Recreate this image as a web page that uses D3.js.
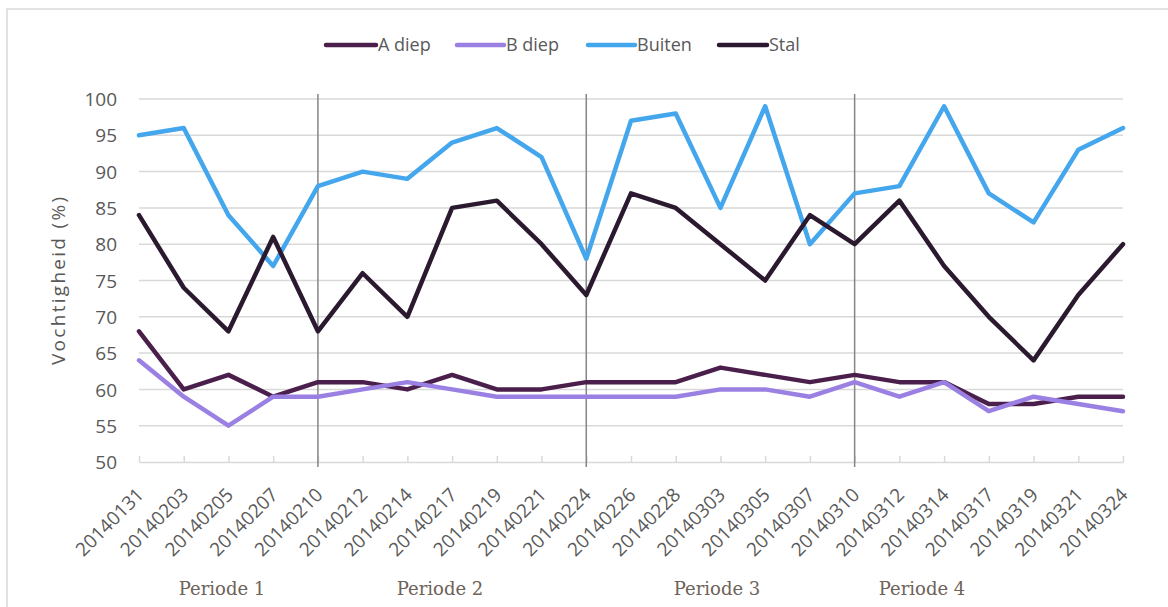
<!DOCTYPE html>
<html>
<head>
<meta charset="utf-8">
<script src="https://cdn.jsdelivr.net/npm/d3@7"></script>
<style>
  html, body { margin: 0; padding: 0; background: #ffffff; }
  svg { display: block; }
</style>
</head>
<body>
<svg id="chart" width="1168" height="607"></svg>
<script>
// Meetdagen (categorie-as)
const dates = ["20140131","20140203","20140205","20140207","20140210","20140212","20140214",
  "20140217","20140219","20140221","20140224","20140226","20140228","20140303","20140305",
  "20140307","20140310","20140312","20140314","20140317","20140319","20140321","20140324"];

// Relatieve vochtigheid (%) per meetpunt
const aDiep  = [68,60,62,59,61,61,60,62,60,60,61,61,61,63,62,61,62,61,61,58,58,59,59];
const bDiep  = [64,59,55,59,59,60,61,60,59,59,59,59,59,60,60,59,61,59,61,57,59,58,57];
const buiten = [95,96,84,77,88,90,89,94,96,92,78,97,98,85,99,80,87,88,99,87,83,93,96];
const stal   = [84,74,68,81,68,76,70,85,86,80,73,87,85,80,75,84,80,86,77,70,64,73,80];

const seriesNames = ["A diep", "B diep", "Buiten", "Stal"];
const yTicks = [50,55,60,65,70,75,80,85,90,95,100];

// Grenzen tussen de perioden en de periodelabels
const periodBreaks = ["20140210", "20140224", "20140310"];
const periodLabels = ["Periode 1", "Periode 2", "Periode 3", "Periode 4"];

const colors = {"A diep": "#4a1f4b", "B diep": "#9b80e3", "Buiten": "#44a6ec", "Stal": "#2b1a2f"};
const seriesData = {"A diep": aDiep, "B diep": bDiep, "Buiten": buiten, "Stal": stal};

const svg = d3.select("#chart");
const font = "'Open Sans', 'Noto Sans', sans-serif";

// Kaderrand
svg.append("rect")
  .attr("x", 7).attr("y", 9).attr("width", 1175).attr("height", 610)
  .attr("fill", "none").attr("stroke", "#d9d9d9").attr("stroke-width", 1.5);

const x = d3.scalePoint().domain(dates).range([139, 1123]);
const y = d3.scaleLinear().domain([50, 100]).range([462, 99]);

// Horizontale rasterlijnen
svg.append("g")
  .selectAll("line")
  .data(yTicks.filter(t => t > 50))
  .join("line")
  .attr("x1", 139).attr("x2", 1123)
  .attr("y1", d => y(d)).attr("y2", d => y(d))
  .attr("stroke", "#d9d9d9").attr("stroke-width", 1.5);

// Y-as labels
const yAxis = d3.axisLeft(y).tickValues(yTicks).tickSize(0).tickPadding(0);
const gy = svg.append("g").attr("transform", "translate(117,0)").call(yAxis);
gy.select(".domain").remove();
gy.selectAll("text")
  .attr("font-family", font).attr("font-size", 19).attr("fill", "#595959")
  .attr("dy", "0.35em");

// X-as met streepjes
const xAxis = d3.axisTop(x).tickSize(6).tickSizeOuter(0).tickFormat("");
const gx = svg.append("g").attr("transform", "translate(0,462)").call(xAxis);
gx.select(".domain").attr("stroke", "#d9d9d9").attr("stroke-width", 1.5);
gx.selectAll(".tick line").attr("stroke", "#d9d9d9").attr("stroke-width", 1.5);

// Gedraaide datumlabels
svg.append("g")
  .selectAll("text")
  .data(dates)
  .join("text")
  .attr("transform", d => `translate(${x(d) + 6},496) rotate(-45)`)
  .attr("text-anchor", "end")
  .attr("font-family", font).attr("font-size", 19).attr("fill", "#595959")
  .text(d => d);

// Verticale periodegrenzen
svg.append("g")
  .selectAll("line")
  .data(periodBreaks)
  .join("line")
  .attr("x1", d => x(d)).attr("x2", d => x(d))
  .attr("y1", 94).attr("y2", 467)
  .attr("stroke", "#868686").attr("stroke-width", 1.5);

// Lijnen per reeks
const line = d3.line()
  .x((d, i) => x(dates[i]))
  .y(d => y(d));

svg.append("g")
  .selectAll("path")
  .data(seriesNames)
  .join("path")
  .attr("d", n => line(seriesData[n]))
  .attr("fill", "none")
  .attr("stroke", n => colors[n])
  .attr("stroke-width", 4.5)
  .attr("stroke-linejoin", "round")
  .attr("stroke-linecap", "round");

// Y-as titel
svg.append("text")
  .attr("transform", "translate(65,281) rotate(-90)")
  .attr("text-anchor", "middle")
  .attr("font-family", font).attr("font-size", 19).attr("fill", "#595959")
  .attr("textLength", 168).attr("lengthAdjust", "spacing")
  .text("Vochtigheid (%)");

// Legenda
const legendPos = [{x1: 326, x2: 376}, {x1: 457, x2: 504}, {x1: 588, x2: 635}, {x1: 719, x2: 767}];
const lg = svg.append("g");
seriesNames.forEach((n, i) => {
  const p = legendPos[i];
  lg.append("line")
    .attr("x1", p.x1).attr("x2", p.x2).attr("y1", 45).attr("y2", 45)
    .attr("stroke", colors[n]).attr("stroke-width", 4.5).attr("stroke-linecap", "round");
  lg.append("text")
    .attr("x", p.x2 + 2).attr("y", 45).attr("dy", "0.35em")
    .attr("font-family", font).attr("font-size", 18).attr("fill", "#595959")
    .text(n);
});

// Periodelabels
const periodCenters = [222, 440, 717, 922];
svg.append("g")
  .selectAll("text")
  .data(periodLabels)
  .join("text")
  .attr("x", (d, i) => periodCenters[i])
  .attr("y", 595)
  .attr("text-anchor", "middle")
  .attr("font-family", "'DejaVu Serif', serif")
  .attr("font-size", 18)
  .attr("fill", "#6e6259")
  .text(d => d);
</script>
</body>
</html>
